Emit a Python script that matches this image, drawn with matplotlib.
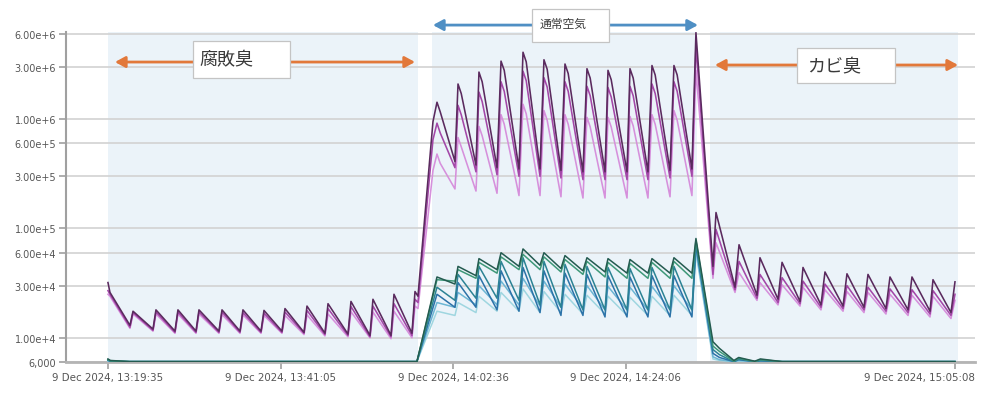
import matplotlib
matplotlib.use("Agg")
import matplotlib.pyplot as plt
import matplotlib.transforms as mtransforms
from matplotlib.patches import Rectangle
from matplotlib.ticker import FixedLocator, FuncFormatter, NullLocator
from datetime import datetime, timedelta

# ---------------- data ----------------
start_time = datetime(2024, 12, 9, 13, 19, 35)

# elapsed minutes since 13:19:35 of the key points of the purple series
t_purple = [0.0, 0.25,
            2.74, 3.12, 5.61, 5.98, 8.35, 8.72, 10.97, 11.34, 13.83, 14.21, 16.45, 16.82,
            19.07, 19.44, 21.68, 22.06, 24.43, 24.80, 27.04, 27.42, 29.91, 30.28,
            32.65, 33.02, 35.27, 35.64, 37.88, 38.26,
            38.63, 40.50,
            41.0, 41.4, 43.24, 43.62, 44.02, 45.86, 46.23, 46.63, 48.48, 48.98, 49.38,
            51.22, 51.72, 52.12, 53.84, 54.33, 54.73, 56.45, 56.95, 57.35,
            59.19, 59.69, 60.09, 61.94, 62.31, 62.71, 64.68, 65.05, 65.45,
            67.29, 67.79, 68.19, 70.04, 70.53, 70.93, 72.77, 73.27,
            75.39, 75.77,
            78.14, 78.64, 80.88, 81.25, 83.50, 84.0, 86.24, 86.61, 88.85, 89.35,
            91.60, 92.09, 94.21, 94.71, 96.95, 97.45, 99.70, 100.19, 102.44, 102.81,
            105.05, 105.55]

purple_dark = [3.2e4, 2.6e4,
               1.3e4, 1.75e4, 1.2e4, 1.8e4, 1.15e4, 1.8e4, 1.15e4, 1.8e4, 1.15e4, 1.8e4, 1.15e4, 1.8e4,
               1.15e4, 1.78e4, 1.15e4, 1.85e4, 1.12e4, 1.95e4, 1.1e4, 2.05e4, 1.08e4, 2.15e4,
               1.05e4, 2.25e4, 1.05e4, 2.5e4, 1.1e4, 2.65e4,
               2.4e4, 9.5e5,
               1.43e6, 1.17e6, 4.1e5, 2.1e6, 1.72e6, 3.8e5, 2.7e6, 2.2e6, 3.6e5, 3.4e6, 2.8e6,
               3.5e5, 4.1e6, 3.35e6, 3.5e5, 3.5e6, 2.87e6, 3.4e5, 3.2e6, 2.62e6,
               3.3e5, 2.9e6, 2.38e6, 3.3e5, 2.8e6, 2.3e6, 3.3e5, 2.9e6, 2.38e6,
               3.3e5, 3.1e6, 2.54e6, 3.4e5, 3.1e6, 2.54e6, 3.5e5, 6.2e6,
               4.5e4, 1.4e5,
               2.9e4, 7.1e4, 2.45e4, 5.4e4, 2.25e4, 4.9e4, 2.15e4, 4.4e4, 2.0e4, 4.0e4,
               1.95e4, 3.85e4, 1.9e4, 3.8e4, 1.85e4, 3.6e4, 1.8e4, 3.6e4, 1.75e4, 3.4e4,
               1.7e4, 3.25e4]

purple_mid = [2.7e4, 2.5e4,
              1.25e4, 1.7e4, 1.17e4, 1.72e4, 1.12e4, 1.72e4, 1.12e4, 1.72e4, 1.12e4, 1.72e4, 1.12e4, 1.7e4,
              1.12e4, 1.68e4, 1.12e4, 1.72e4, 1.1e4, 1.78e4, 1.07e4, 1.85e4, 1.05e4, 1.93e4,
              1.02e4, 1.95e4, 1.02e4, 2.05e4, 1.05e4, 2.25e4,
              2.1e4, 6.5e5,
              9.2e5, 7.5e5, 3.6e5, 1.34e6, 1.1e6, 3.3e5, 1.77e6, 1.45e6, 3.1e5, 2.2e6, 1.8e6,
              3.0e5, 2.75e6, 2.25e6, 3.0e5, 2.4e6, 1.97e6, 2.9e5, 2.2e6, 1.8e6,
              2.8e5, 2.0e6, 1.64e6, 2.8e5, 1.95e6, 1.6e6, 2.8e5, 2.0e6, 1.64e6,
              2.8e5, 2.1e6, 1.72e6, 2.9e5, 2.2e6, 1.8e6, 3.0e5, 4.7e6,
              3.8e4, 9.8e4,
              2.75e4, 5.0e4, 2.3e4, 3.8e4, 2.1e4, 3.55e4, 2.05e4, 3.3e4, 1.9e4, 3.1e4,
              1.85e4, 3.0e4, 1.8e4, 2.9e4, 1.75e4, 2.8e4, 1.7e4, 2.75e4, 1.65e4, 2.7e4,
              1.6e4, 2.5e4]

purple_light = [2.5e4, 2.4e4,
                1.22e4, 1.65e4, 1.15e4, 1.65e4, 1.1e4, 1.65e4, 1.1e4, 1.65e4, 1.1e4, 1.63e4, 1.1e4, 1.62e4,
                1.1e4, 1.6e4, 1.1e4, 1.6e4, 1.07e4, 1.62e4, 1.04e4, 1.65e4, 1.02e4, 1.73e4,
                1.0e4, 1.72e4, 0.98e4, 1.75e4, 1.0e4, 1.95e4,
                1.85e4, 3.4e5,
                4.8e5, 3.95e5, 2.3e5, 6.8e5, 5.6e5, 2.2e5, 8.6e5, 7.05e5, 2.1e5, 1.1e6, 9.0e5,
                2.0e5, 1.37e6, 1.12e6, 2.0e5, 1.2e6, 9.8e5, 1.95e5, 1.1e6, 9.0e5,
                1.9e5, 1.04e6, 8.5e5, 1.9e5, 1.04e6, 8.5e5, 1.9e5, 1.06e6, 8.7e5,
                1.9e5, 1.1e6, 9.0e5, 1.95e5, 1.2e6, 9.8e5, 2.0e5, 2.8e6,
                3.5e4, 7.4e4,
                2.6e4, 3.95e4, 2.2e4, 3.2e4, 2.0e4, 3.05e4, 1.95e4, 2.9e4, 1.8e4, 2.75e4,
                1.75e4, 2.65e4, 1.7e4, 2.6e4, 1.65e4, 2.5e4, 1.6e4, 2.45e4, 1.55e4, 2.4e4,
                1.5e4, 2.2e4]

# elapsed minutes of the key points of the teal / blue series
t_teal = [0.0, 0.3, 2.7, 38.5,
          41.0, 43.24, 43.62, 45.86, 46.23, 48.48, 48.98, 51.22, 51.72, 53.84, 54.33,
          56.45, 56.95, 59.19, 59.69, 61.94, 62.31, 64.68, 65.05, 67.29, 67.79,
          70.04, 70.53, 72.77, 73.27,
          75.39, 76.2, 78.0, 78.6, 80.6, 81.3, 84.0, 105.55]

teal_1 = [6.4e3, 6.2e3, 6.05e3, 6.05e3,
          3.6e4, 3.1e4, 4.5e4, 3.7e4, 5.3e4, 4.2e4, 6.0e4, 4.5e4, 6.5e4, 4.6e4, 6.0e4,
          4.3e4, 5.65e4, 4.1e4, 5.4e4, 4.0e4, 5.3e4, 3.9e4, 5.2e4, 3.9e4, 5.3e4,
          3.9e4, 5.4e4, 3.9e4, 8.1e4,
          9.2e3, 8.0e3, 6.2e3, 6.6e3, 6.1e3, 6.4e3, 6.05e3, 6.05e3]
teal_2 = [6.3e3, 6.15e3, 6.05e3, 6.05e3,
          3.4e4, 3.3e4, 4.2e4, 3.5e4, 4.9e4, 3.9e4, 5.5e4, 4.2e4, 5.8e4, 4.2e4, 5.5e4,
          4.0e4, 5.2e4, 3.8e4, 5.0e4, 3.6e4, 4.9e4, 3.5e4, 4.8e4, 3.5e4, 4.9e4,
          3.5e4, 5.0e4, 3.5e4, 7.8e4,
          8.4e3, 7.5e3, 6.1e3, 6.5e3, 6.05e3, 6.3e3, 6.05e3, 6.05e3]
teal_3 = [6.3e3, 6.1e3, 6.05e3, 6.05e3,
          2.9e4, 2.2e4, 3.8e4, 2.3e4, 4.5e4, 2.3e4, 5.0e4, 2.2e4, 5.4e4, 2.0e4, 5.0e4,
          1.9e4, 4.7e4, 1.8e4, 4.5e4, 1.8e4, 4.4e4, 1.8e4, 4.3e4, 1.8e4, 4.4e4,
          1.8e4, 4.5e4, 1.8e4, 7.5e4,
          7.8e3, 7.0e3, 6.05e3, 6.4e3, 6.05e3, 6.2e3, 6.05e3, 6.05e3]
teal_4 = [6.2e3, 6.1e3, 6.05e3, 6.05e3,
          2.5e4, 1.9e4, 3.2e4, 1.9e4, 3.7e4, 1.8e4, 4.1e4, 1.75e4, 4.4e4, 1.7e4, 4.1e4,
          1.6e4, 3.9e4, 1.6e4, 3.8e4, 1.55e4, 3.7e4, 1.55e4, 3.6e4, 1.55e4, 3.7e4,
          1.55e4, 3.7e4, 1.55e4, 7.0e4,
          7.2e3, 6.6e3, 6.05e3, 6.3e3, 6.05e3, 6.15e3, 6.05e3, 6.05e3]
teal_5 = [6.2e3, 6.05e3, 6.05e3, 6.05e3,
          2.1e4, 1.9e4, 2.6e4, 2.0e4, 3.0e4, 2.0e4, 3.3e4, 2.0e4, 3.5e4, 1.95e4, 3.3e4,
          1.9e4, 3.1e4, 1.85e4, 3.0e4, 1.8e4, 2.95e4, 1.8e4, 2.9e4, 1.8e4, 2.95e4,
          1.8e4, 3.0e4, 1.8e4, 6.5e4,
          6.7e3, 6.3e3, 6.05e3, 6.2e3, 6.05e3, 6.1e3, 6.05e3, 6.05e3]
teal_6 = [6.1e3, 6.05e3, 6.05e3, 6.05e3,
          1.75e4, 1.6e4, 2.1e4, 1.7e4, 2.4e4, 1.75e4, 2.6e4, 1.75e4, 2.8e4, 1.7e4, 2.65e4,
          1.7e4, 2.5e4, 1.65e4, 2.45e4, 1.65e4, 2.4e4, 1.6e4, 2.35e4, 1.6e4, 2.4e4,
          1.6e4, 2.45e4, 1.6e4, 6.0e4,
          6.4e3, 6.2e3, 6.05e3, 6.1e3, 6.05e3, 6.05e3, 6.05e3, 6.05e3]

# shaded periods (elapsed minutes) and their labels
region_spans = [(0.0, 38.63), (40.38, 73.40), (75.02, 105.93)]
region_labels = ["腐敗臭", "通常空気", "カビ臭"]

tick_times = ["13:19:35", "13:41:05", "14:02:36", "14:24:06", "15:05:08"]
y_ticks = [6000, 1e4, 3e4, 6e4, 1e5, 3e5, 6e5, 1e6, 3e6, 6e6]

assert len(t_purple) == len(purple_dark) == len(purple_mid) == len(purple_light)
for s in (teal_1, teal_2, teal_3, teal_4, teal_5, teal_6):
    assert len(s) == len(t_teal)

# ---------------- plot ----------------
plt.rcParams['font.family'] = ['DejaVu Sans', 'Noto Sans CJK JP']
fig = plt.figure(figsize=(9.91, 4.02), dpi=100)
ax = fig.add_axes([0.0666, 0.0970, 0.9173, 0.8209])

for x0, x1 in region_spans:
    ax.axvspan(x0, x1, color="#ebf3f9", zorder=0, lw=0)

teal_colors = ["#9fd6e0", "#6cb6d4", "#2c72a8", "#2b8294", "#3e9878", "#245b50"]
for s, c in zip([teal_6, teal_5, teal_4, teal_3, teal_2, teal_1], teal_colors):
    ax.plot(t_teal, s, color=c, lw=1.1, zorder=3, solid_joinstyle="round")

for s, c in zip([purple_light, purple_mid, purple_dark], ["#d690dc", "#a347a8", "#5a2a5e"]):
    ax.plot(t_purple, s, color=c, lw=1.15, zorder=4, solid_joinstyle="round")

ax.set_yscale("log")
ax.set_ylim(6000, 6.28e6)
ax.set_xlim(-5.23, 108.05)


def fmt_y(v, pos=None):
    if v < 1e4:
        return f"{v:,.0f}"
    exp = len(str(int(round(v)))) - 1
    mant = v / 10 ** exp
    return f"{mant:.2f}e+{exp}"


def to_min(s):
    h, m, sec = map(int, s.split(":"))
    d = start_time.replace(hour=h, minute=m, second=sec)
    return (d - start_time).total_seconds() / 60.0


def fmt_x(m, pos=None):
    d = start_time + timedelta(seconds=round(m * 60))
    return f"{d.day} Dec {d.year}, {d:%H:%M:%S}"


ax.yaxis.set_major_locator(FixedLocator(y_ticks))
ax.yaxis.set_minor_locator(NullLocator())
ax.yaxis.set_major_formatter(FuncFormatter(fmt_y))
ax.xaxis.set_major_locator(FixedLocator([to_min(t) for t in tick_times]))
ax.xaxis.set_major_formatter(FuncFormatter(fmt_x))

ax.grid(axis="y", color="#d2d2d2", lw=1.2, zorder=1)
ax.set_axisbelow(True)
for side in ("top", "right"):
    ax.spines[side].set_visible(False)
ax.spines["left"].set_color("#a0a0a0")
ax.spines["left"].set_linewidth(1.5)
ax.spines["bottom"].set_color("#b4b4b4")
ax.spines["bottom"].set_linewidth(2.0)
ax.tick_params(axis="y", length=5, width=1.2, color="#a0a0a0", labelsize=7, labelcolor="#555555", pad=2)
ax.tick_params(axis="x", length=5, width=1.2, color="#a0a0a0", labelsize=7.4, labelcolor="#555555", pad=2)

# last x tick label kept inside the figure (right aligned, as in the original)
fig.canvas.draw()
last = ax.get_xticklabels()[-1]
last.set_horizontalalignment("right")
last.set_transform(last.get_transform() + mtransforms.ScaledTranslation(0.20, 0, fig.dpi_scale_trans))

# annotations: arrows and label boxes
tr = ax.get_xaxis_transform()
arrow_specs = [(0.87, 38.26, 0.909, "#e2783a"), (40.5, 73.52, 1.021, "#4f8fc4"), (75.64, 105.93, 0.90, "#e2783a")]
for x0, x1, y, c in arrow_specs:
    ax.annotate("", xy=(x1, y), xytext=(x0, y), xycoords=tr, textcoords=tr,
                arrowprops=dict(arrowstyle="<|-|>,head_length=0.55,head_width=0.3",
                                color=c, lw=2.0, shrinkA=0, shrinkB=0, mutation_scale=11),
                annotation_clip=False, zorder=6)

box_specs = [(10.59, 22.68, 0.861, 0.973, 11.46, 0.918, 13),
             (52.84, 62.43, 0.970, 1.070, 53.84, 1.027, 8.5),
             (85.86, 98.08, 0.845, 0.952, 87.11, 0.897, 13)]
for (bx0, bx1, by0, by1, tx, ty, fs), lab in zip(box_specs, region_labels):
    ax.add_patch(Rectangle((bx0, by0), bx1 - bx0, by1 - by0, transform=tr, clip_on=False,
                           facecolor="white", edgecolor="#c4c4c4", lw=0.9, zorder=7))
    ax.text(tx, ty, lab, transform=tr, ha="left", va="center", fontsize=fs,
            family=["Noto Sans CJK JP", "DejaVu Sans"], color="#3a3a3a", zorder=8, clip_on=False)

fig.savefig("out.png", dpi=100)
